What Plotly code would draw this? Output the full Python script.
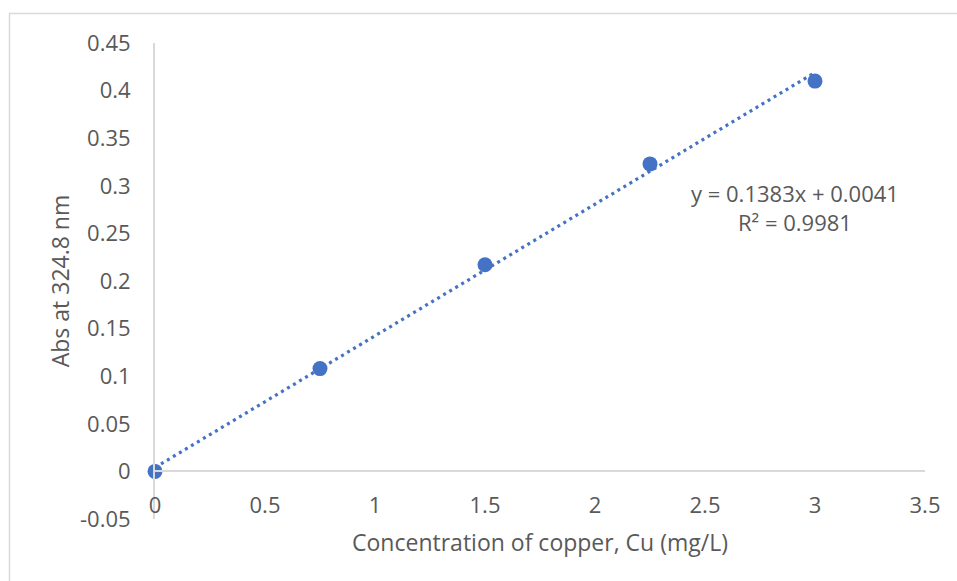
import plotly.graph_objects as go

# Data
conc = [0, 0.75, 1.5, 2.25, 3.0]
absorb = [0.0, 0.108, 0.217, 0.323, 0.410]
slope = 0.1383
intercept = 0.0041
r2 = 0.9981

x_ticks = [0, 0.5, 1, 1.5, 2, 2.5, 3, 3.5]
x_ticktext = ["0", "0.5", "1", "1.5", "2", "2.5", "3", "3.5"]
y_ticks = [-0.05, 0, 0.05, 0.1, 0.15, 0.2, 0.25, 0.3, 0.35, 0.4, 0.45]
y_ticktext = ["-0.05", "0", "0.05", "0.1", "0.15", "0.2", "0.25", "0.3", "0.35", "0.4", "0.45"]

trend_x = [min(conc), max(conc)]
trend_y = [slope * v + intercept for v in trend_x]

BLUE = "#4472C4"
GREY_TXT = "#595959"
AXIS = "#D9D9D9"
FONT = "Open Sans"
FS = 22
FS_T = 23

fig = go.Figure()
fig.add_trace(go.Scatter(x=conc, y=absorb, mode="markers", cliponaxis=False,
                         marker=dict(size=15, color=BLUE), showlegend=False))
fig.add_trace(go.Scatter(x=trend_x, y=trend_y, mode="lines", cliponaxis=False,
                         line=dict(color=BLUE, width=3.2, dash="3px,4px"),
                         showlegend=False))

fig.add_annotation(x=2.91, y=0.292, xref="x", yref="y",
                   text=f"y = {slope}x + {intercept}", showarrow=False,
                   xanchor="center", yanchor="middle",
                   font=dict(family=FONT, size=FS, color=GREY_TXT))
fig.add_annotation(x=2.91, y=0.262, xref="x", yref="y",
                   text=f"R² = {r2}", showarrow=False,
                   xanchor="center", yanchor="middle",
                   font=dict(family=FONT, size=FS, color=GREY_TXT))

# chart border
fig.add_shape(type="rect", xref="paper", yref="paper",
              x0=(9.5 - 155) / 770, x1=1.2, y0=-0.3, y1=(519 - 13.5) / 476,
              line=dict(color=AXIS, width=1.5), fillcolor="rgba(0,0,0,0)",
              layer="below")

fig.update_layout(
    width=957, height=581,
    margin=dict(l=155, r=32, t=43, b=62),
    paper_bgcolor="white", plot_bgcolor="white",
    font=dict(family=FONT, size=FS, color=GREY_TXT),
    xaxis=dict(range=[0, 3.5], tickvals=x_ticks, ticktext=x_ticktext,
               showgrid=False, zeroline=False, showline=True,
               linecolor=AXIS, linewidth=2, ticks="",
               anchor="free", position=0.1, ticklabelstandoff=14,
               title=dict(text="Concentration of copper, Cu (mg/L)",
                          standoff=16,
                          font=dict(family=FONT, size=FS_T, color=GREY_TXT)),
               tickfont=dict(family=FONT, size=FS, color=GREY_TXT)),
    yaxis=dict(range=[-0.05, 0.45], tickvals=y_ticks, ticktext=y_ticktext,
               showgrid=False, zeroline=False, showline=True,
               linecolor=AXIS, linewidth=2, ticks="",
               ticklabelstandoff=18,
               title=dict(text="Abs at 324.8 nm", standoff=4,
                          font=dict(family=FONT, size=FS_T, color=GREY_TXT)),
               tickfont=dict(family=FONT, size=FS, color=GREY_TXT)),
)

fig.write_html("out.html")
